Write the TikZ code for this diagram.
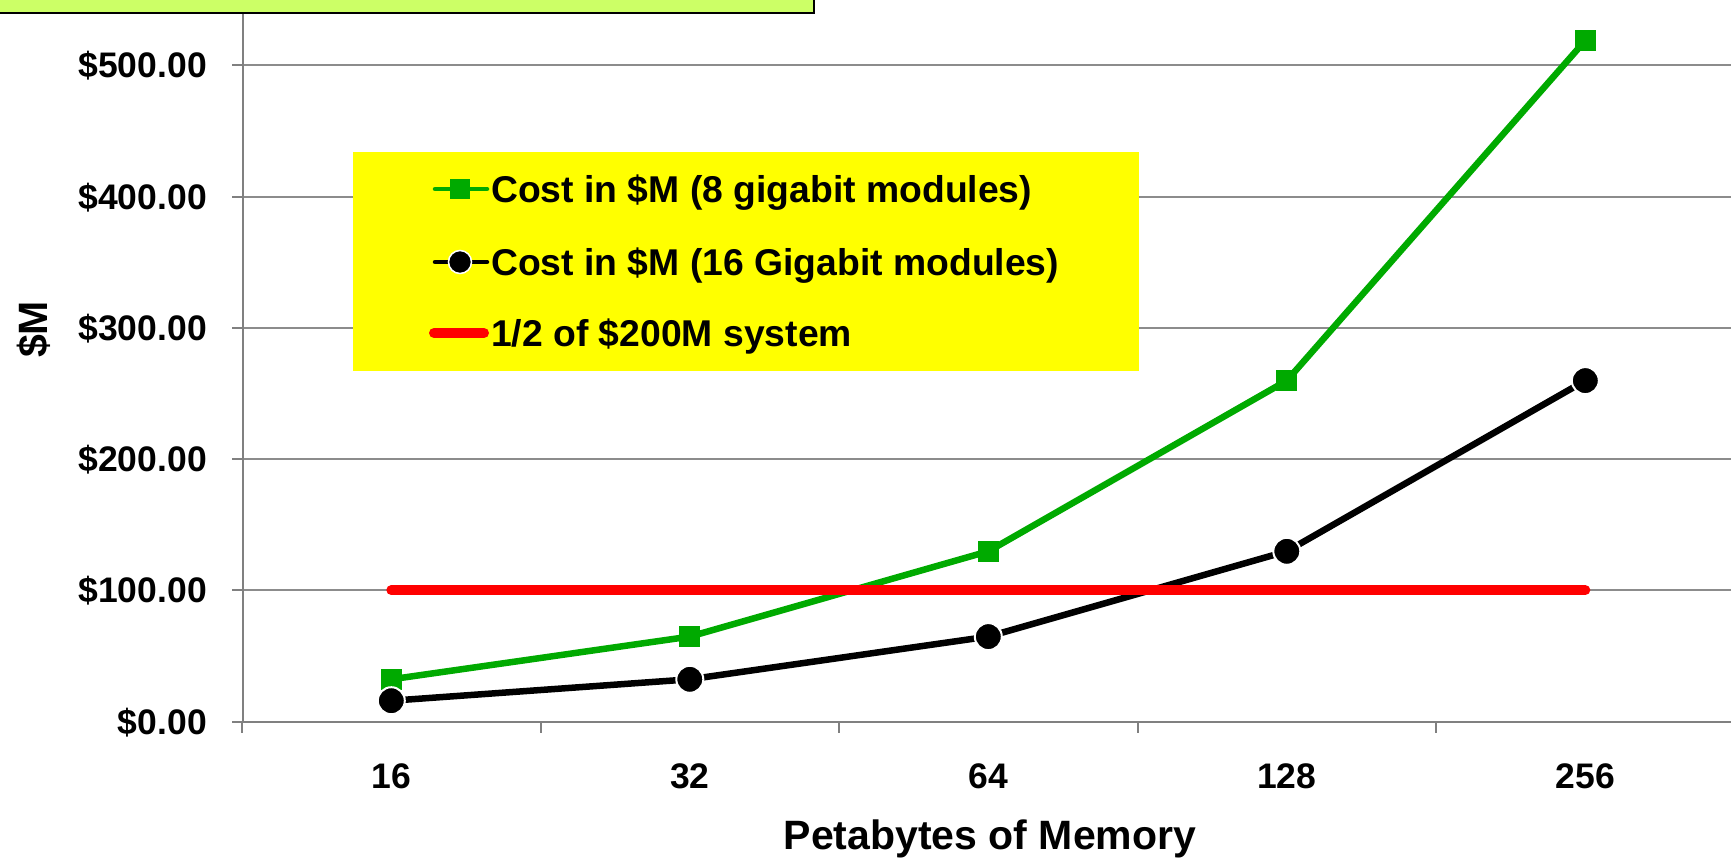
\documentclass[tikz,border=0pt]{standalone}
\usepackage{fontspec}
\setmainfont{Liberation Sans}
\definecolor{chartgreen}{RGB}{0,170,0}
\definecolor{chartred}{RGB}{255,0,0}
\definecolor{gridgray}{RGB}{140,140,140}
\definecolor{axisgray}{RGB}{128,128,128}
\definecolor{notefill}{RGB}{204,255,102}
\definecolor{legendfill}{RGB}{255,255,0}
\begin{document}
\begin{tikzpicture}[x=1pt,y=-1pt,
  gridline/.style={draw=gridgray, line width=2pt},
  axisline/.style={draw=axisgray, line width=2.6pt},
  tickmark/.style={draw=axisgray, line width=2pt},
  ticklbl/.style={font=\fontsize{35.5}{40}\selectfont\bfseries, inner sep=0pt},
  titlelbl/.style={font=\fontsize{41}{46}\selectfont\bfseries, inner sep=0pt},
  legendlbl/.style={font=\fontsize{37.3}{42}\selectfont\bfseries, inner sep=0pt, anchor=base west},
  greenline/.style={draw=chartgreen, line width=6.5pt, line join=round},
  blackline/.style={draw=black, line width=6.5pt, line join=round},
  redline/.style={draw=chartred, line width=10pt, line cap=round},
  greensq/.style={rectangle, fill=chartgreen, minimum size=21pt, inner sep=0pt},
  blackdot/.style={circle, fill=black, draw=white, line width=2pt, minimum size=27pt, inner sep=0pt},
]
\useasboundingbox (0,0) rectangle (1731,862);

% horizontal gridlines
\foreach \y in {65.4, 196.6, 327.8, 459.0, 590.2} {
  \draw[gridline] (243,\y) -- (1731,\y);
}
% value ticks and labels
\foreach \v/\y in {500.00/65.4, 400.00/196.6, 300.00/327.8, 200.00/459.0, 100.00/590.2, 0.00/721.5} {
  \draw[tickmark] (232,\y) -- (243,\y);
  \node[ticklbl, anchor=base east] at (207,\y+12.5) {\$\v};
}

% axes and category ticks
\draw[axisline] (243,722) -- (243,0);
\draw[axisline] (232,722) -- (1731,722);
\foreach \x in {242,541,839,1138,1436} {
  \draw[tickmark] (\x,722) -- (\x,733);
}
\foreach \x/\t in {391.3/16, 689.8/32, 988.3/64, 1286.8/128, 1585.3/256} {
  \node[ticklbl, anchor=base] at (\x,788.5) {\t};
}

% axis titles
\node[titlelbl, anchor=base] (xtitle) at (990,849) {Petabytes of Memory};
\node[titlelbl, anchor=base, rotate=90] (ytitle) at (47,329.5) {\$M};

% data points
\coordinate (g1) at (391.3,679.3);
\coordinate (g2) at (689.8,636.6);
\coordinate (g3) at (988.3,551.3);
\coordinate (g4) at (1286.8,380.6);
\coordinate (g5) at (1585.3,40.5);
\coordinate (b1) at (391.3,700.7);
\coordinate (b2) at (689.8,679.3);
\coordinate (b3) at (988.3,636.6);
\coordinate (b4) at (1286.8,551.3);
\coordinate (b5) at (1585.3,380.6);
\coordinate (r1) at (391.3,590.2);
\coordinate (r2) at (1585.3,590.2);

% 8 gigabit series
\draw[greenline] (g1) -- (g2) -- (g3) -- (g4) -- (g5);
\foreach \p in {g1,g2,g3,g4,g5} { \node[greensq] at (\p) {}; }

% 16 gigabit series
\draw[blackline] (b1) -- (b2) -- (b3) -- (b4) -- (b5);
\foreach \p in {b1,b2,b3,b4,b5} { \node[blackdot] at (\p) {}; }

% budget line
\draw[redline] (r1) -- (r2);

% legend
\node[fill=legendfill, anchor=north west, minimum width=786pt, minimum height=219pt, inner sep=0pt] (legend) at (353,152) {};
\coordinate (l1a) at (435,189); \coordinate (l1b) at (487,189);
\coordinate (l2a) at (435,262); \coordinate (l2b) at (487,262);
\coordinate (l3a) at (434,333); \coordinate (l3b) at (484,333);
\draw[greenline, line width=4.5pt, line cap=round] (l1a) -- (l1b);
\node[greensq, minimum size=20pt] (lg) at (460,189) {};
\draw[blackline, line width=4.5pt, line cap=round] (l2a) -- (l2b);
\node[blackdot, minimum size=23pt, line width=1.5pt] (lb) at (460,262) {};
\draw[redline] (l3a) -- (l3b);
\node[legendlbl] (t1) at (491,202) {Cost in \$M (8 gigabit modules)};
\node[legendlbl] (t2) at (491,275) {Cost in \$M (16 Gigabit modules)};
\node[legendlbl] (t3) at (491,346) {1/2 of \$200M system};

% note box at the top edge
\node[fill=notefill, draw=black, line width=2pt, anchor=south east, minimum width=830pt, minimum height=40pt, inner sep=0pt] (note) at (815,14) {};
\end{tikzpicture}
\end{document}
